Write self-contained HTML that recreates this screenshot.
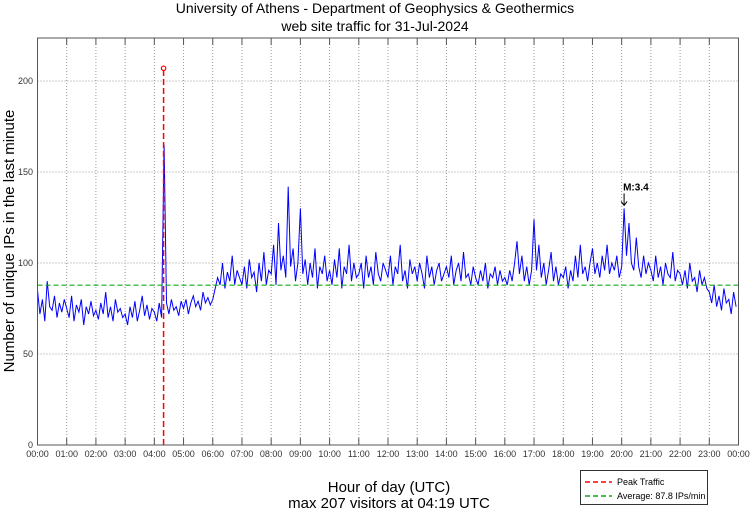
<!DOCTYPE html>
<html><head><meta charset="utf-8"><style>
body{margin:0;background:#fff}
svg{display:block;font-family:"Liberation Sans",sans-serif}
</style></head><body>
<svg id="c" width="750" height="511">
<text x="375" y="13" text-anchor="middle" font-size="14">University of Athens - Department of Geophysics &amp; Geothermics</text>
<text x="375" y="31" text-anchor="middle" font-size="14">web site traffic for 31-Jul-2024</text>
<text transform="translate(14,241) rotate(-90)" text-anchor="middle" font-size="15">Number of unique IPs in the last minute</text>
<text x="389" y="492" text-anchor="middle" font-size="15">Hour of day (UTC)</text>
<text x="389" y="508" text-anchor="middle" font-size="15">max 207 visitors at 04:19 UTC</text>
<g id="grid"></g><g id="marks"></g>
<rect x="37.5" y="38" width="701" height="407" fill="none" stroke="#555"/>
<g>
<rect x="580.5" y="470.5" width="127" height="34" fill="#fff" stroke="#333"/>
<line x1="585" y1="482" x2="612" y2="482" stroke="#f00" stroke-width="1.5" stroke-dasharray="5,3"/>
<text x="617" y="485" font-size="9">Peak Traffic</text>
<line x1="585" y1="496" x2="612" y2="496" stroke="#1a1" stroke-width="1.5" stroke-dasharray="5,3"/>
<text x="617" y="499" font-size="9">Average: 87.8 IPs/min</text>
</g>
</svg>
<script>
const values=[85,72,80,68,90,76,74,82,70,78,73,80,
75,70,82,68,77,73,80,66,76,72,79,71,
74,69,78,72,84,70,76,68,80,73,75,70,
72,66,76,70,79,68,74,82,71,77,69,75,
73,68,78,70,165,78,72,80,74,76,71,79,
75,80,72,78,82,76,79,74,84,78,81,77,
80,86,92,88,100,86,95,90,104,88,96,92,
88,98,86,102,92,95,84,100,90,106,88,96,
94,110,88,122,96,104,92,142,98,108,90,100,
130,94,102,88,100,92,108,86,98,94,104,90,
96,88,102,92,108,86,98,94,110,90,100,92,
94,100,86,104,92,98,88,106,94,90,100,96,
92,104,88,98,94,110,90,96,86,102,94,98,
90,100,94,86,104,92,98,88,96,100,90,94,
98,92,104,88,96,100,90,106,92,94,88,98,
92,88,96,90,100,86,94,92,98,88,96,90,
92,88,96,90,100,112,94,104,90,98,88,96,
124,96,110,92,100,88,96,106,90,98,88,94,
92,98,86,96,90,104,92,110,94,98,90,100,
108,94,100,92,104,96,110,94,100,96,104,92,
98,130,104,122,100,96,114,98,92,104,94,100,
96,90,104,92,98,88,100,94,92,106,90,96,
94,88,96,86,100,90,92,84,96,88,92,86,
84,78,88,76,82,74,86,78,80,72,84,76];
const yTicks=[0,50,100,150,200];
const xTickLabels=["00:00","01:00","02:00","03:00","04:00","05:00","06:00","07:00","08:00","09:00","10:00","11:00","12:00","13:00","14:00","15:00","16:00","17:00","18:00","19:00","20:00","21:00","22:00","23:00","00:00"];
const average=[87.8];
const peak=[4+19/60,207];
const quake=[20+5/60,130,"M:3.4"];
const NS="http://www.w3.org/2000/svg";
const X=h=>37.5+h*701/24, Y=v=>445-v*1.82;
function mk(p,t,a){const e=document.createElementNS(NS,t);for(const k in a)e.setAttribute(k,a[k]);p.appendChild(e);return e;}
const g=document.getElementById('grid'), m=document.getElementById('marks');
xTickLabels.forEach((l,i)=>{const x=X(i);
 if(i>0&&i<24){const ln=mk(g,'line',{x1:x,y1:38,x2:x,y2:445,stroke:'#999','stroke-dasharray':'1,2'});
 }
 mk(g,'line',{x1:x,y1:445,x2:x,y2:438,stroke:'#555'});mk(g,'line',{x1:x,y1:38,x2:x,y2:45,stroke:'#555'});
 const t=mk(g,'text',{x:x,y:457,'font-size':9,'text-anchor':'middle',fill:'#333'});t.textContent=l;
 });
yTicks.forEach(v=>{const y=Y(v);
 if(v>0){const ln=mk(g,'line',{x1:37.5,y1:y,x2:738.5,y2:y,stroke:'#999','stroke-dasharray':'1,2'});
 }
 const t=mk(g,'text',{x:33,y:y+3,'font-size':9,'text-anchor':'end',fill:'#333'});t.textContent=v;
 });
const pts=values.map((v,i)=>X(i*24/values.length).toFixed(1)+','+Y(v).toFixed(1)).join(' ');
const pl=mk(m,'polyline',{points:pts,fill:'none',stroke:'#00f','stroke-width':1});

const av=mk(m,'line',{x1:37.5,x2:738.5,y1:Y(average[0]),y2:Y(average[0]),stroke:'#1a1','stroke-width':1.2,'stroke-dasharray':'5,3'});

const pk=mk(m,'line',{x1:X(peak[0]),x2:X(peak[0]),y1:Y(0),y2:Y(peak[1]),stroke:'#f00','stroke-width':1.5,'stroke-dasharray':'6,3'});

const pc=mk(m,'circle',{cx:X(peak[0]),cy:Y(peak[1]),r:2.2,fill:'none',stroke:'#f00','stroke-width':1.2});

const qx=X(quake[0]),qy=Y(quake[1]);
const qa=mk(m,'path',{d:`M${qx},${qy-15}V${qy-3}M${qx-3},${qy-7}L${qx},${qy-3}L${qx+3},${qy-7}`,stroke:'#000',fill:'none'});

const qt=mk(m,'text',{x:qx-1,y:qy-18,'font-size':10,'font-weight':'bold'});qt.textContent=quake[2];

</script>
</body></html>
